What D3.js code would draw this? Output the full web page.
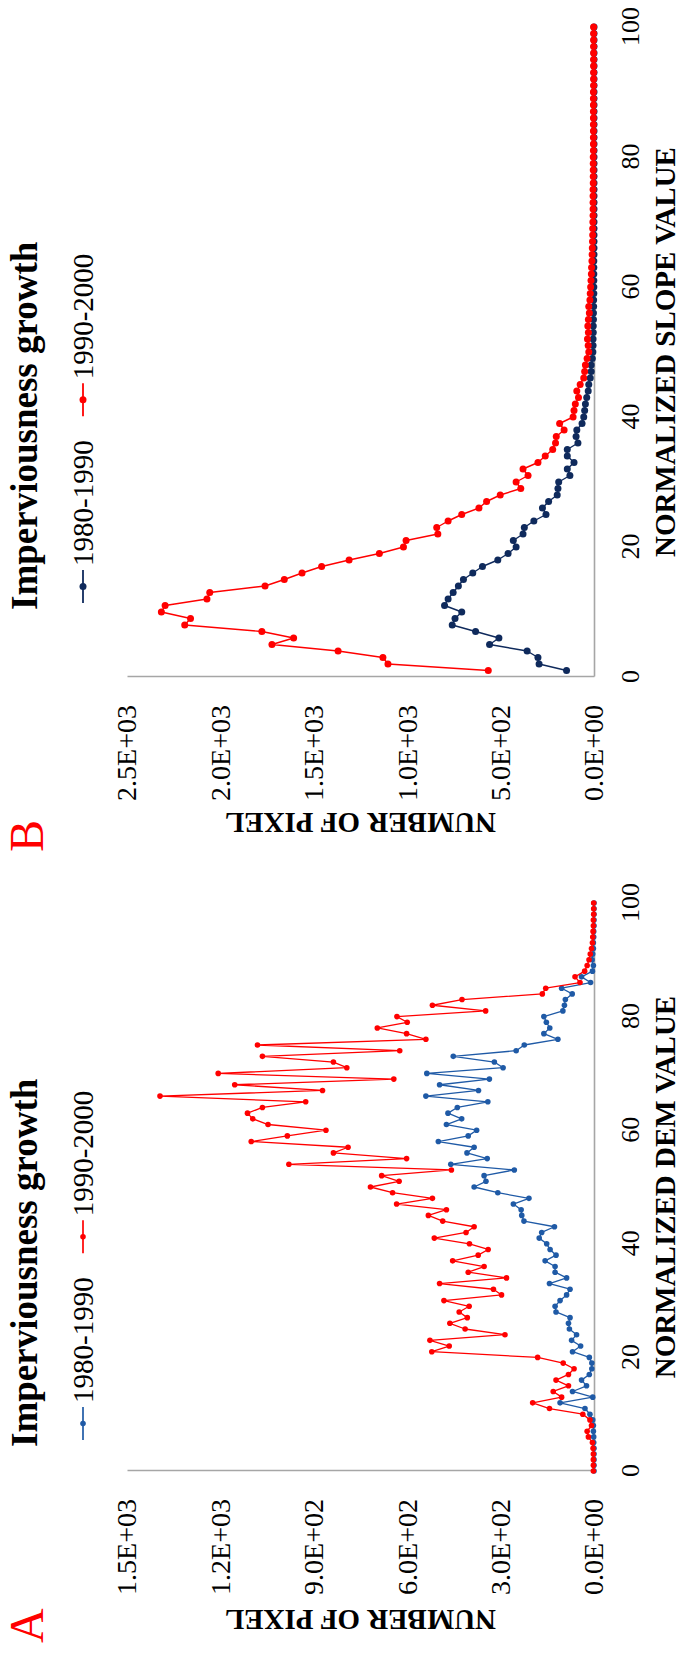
<!DOCTYPE html>
<html>
<head>
<meta charset="utf-8">
<script src="https://cdn.jsdelivr.net/npm/d3@7"></script>
<style>
  html, body { margin: 0; padding: 0; background: #fff; }
  svg { display: block; }
</style>
</head>
<body>
<svg id="fig" width="681" height="1654"></svg>
<script>
// ---- Panel A: pixel counts per normalized DEM value (0..100) ----
const demStart = 0;
const demTicks = [0, 20, 40, 60, 80, 100];
const demPixelTicks = [0, 300, 600, 900, 1200, 1500];
const dem1980_1990 = [
  0, 0, 0, 0, 0, 1, 1, 2, 2, 4,
  13, 29, 109, 4, 69, 24, 40, 15, 7, 7,
  15, 69, 43, 72, 56, 79, 82, 77, 122, 125,
  109, 88, 77, 143, 88, 125, 125, 157, 122, 141,
  152, 176, 168, 127, 225, 232, 234, 259, 209, 309,
  385, 347, 353, 256, 460, 343, 408, 385, 500, 404,
  377, 474, 425, 469, 439, 341, 540, 371, 496, 336,
  537, 292, 320, 452, 250, 224, 116, 161, 142, 153,
  161, 100, 95, 92, 70, 104, 11, 40, 5, 2,
  6, 4, 2, 2, 1, 1, 0, 0, 0, 0,
  0
];
const dem1990_2000 = [
  2, 2, 2, 2, 3, 5, 18, 22, 8, 13,
  36, 143, 197, 104, 131, 82, 122, 82, 64, 99,
  181, 521, 465, 527, 286, 414, 463, 407, 433, 401,
  482, 297, 323, 496, 281, 404, 353, 454, 372, 340,
  400, 513, 411, 385, 486, 532, 474, 634, 519, 647,
  718, 626, 682, 458, 980, 602, 837, 790, 1101, 985,
  861, 1047, 1096, 1113, 1065, 926, 1394, 872, 1154, 643,
  1207, 794, 837, 1065, 624, 1081, 540, 602, 696, 600,
  633, 348, 519, 424, 166, 155, 45, 61, 30, 22,
  16, 12, 8, 5, 4, 3, 2, 2, 1, 1,
  1
];

// ---- Panel B: pixel counts per normalized slope value (1..100) ----
const slopeStart = 1;
const slopeTicks = [0, 20, 40, 60, 80, 100];
const slopePixelTicks = [0, 500, 1000, 1500, 2000, 2500];
const slope1980_1990 = [
  147, 294, 300, 358, 559, 509, 634, 759, 744, 708,
  800, 781, 754, 726, 699, 649, 597, 515, 460, 417,
  432, 380, 373, 322, 257, 276, 243, 197, 193, 189,
  129, 143, 107, 143, 143, 86, 96, 92, 64, 55,
  50, 46, 39, 31, 28, 20, 15, 15, 9, 6,
  5, 5, 4, 4, 3, 3, 2, 2, 1, 1,
  1, 1, 1, 1, 0, 0, 0, 0, 0, 0,
  0, 0, 0, 0, 0, 0, 0, 0, 0, 0,
  0, 0, 0, 0, 0, 0, 0, 0, 0, 0,
  0, 0, 0, 0, 0, 0, 0, 0, 0, 0
];
const slope1990_2000 = [
  566, 1103, 1130, 1370, 1724, 1608, 1778, 2191, 2160, 2316,
  2296, 2072, 2057, 1761, 1658, 1563, 1458, 1311, 1149, 1020,
  1006, 836, 842, 781, 708, 616, 575, 502, 392, 417,
  353, 380, 300, 261, 221, 206, 202, 160, 184, 112,
  107, 100, 83, 92, 74, 55, 50, 46, 37, 28,
  31, 35, 30, 33, 30, 25, 28, 22, 20, 18,
  16, 14, 13, 11, 10, 9, 8, 7, 7, 6,
  5, 5, 5, 5, 5, 4, 4, 4, 4, 4,
  3, 3, 3, 3, 3, 3, 3, 3, 3, 3,
  2, 2, 2, 2, 2, 2, 2, 2, 2, 2
];

const seriesNames = ["1980-1990", "1990-2000"];
const chartTitle = "Imperviousness growth";
const yTitle = "NUMBER OF PIXEL";

const SERIF = "'Liberation Serif', 'Times New Roman', Times, serif";
const AXIS_GREY = "#a6a6a6";

// Scientific labels such as 1.5E+03
function sci(v) {
  const [m, e] = v.toExponential(1).split("e");
  return m + "E" + e[0] + e.slice(1).padStart(2, "0");
}

const svg = d3.select("#fig");
svg.append("rect").attr("width", 681).attr("height", 1654).attr("fill", "#fff");

// The figure is laid out landscape (1654 x 681) and turned a quarter turn.
const root = svg.append("g").attr("transform", "translate(0,1654) rotate(-90)");

function drawPanel(p) {
  const g = root.append("g");
  const x = d3.scaleLinear().domain([0, 100]).range([p.x0, p.x1]);
  const y = d3.scaleLinear().domain([0, p.yMax]).range([594, 127]);

  // horizontal axis (normalized value)
  const gx = g.append("g")
    .attr("transform", "translate(0,594)")
    .call(d3.axisBottom(x).tickValues(p.xTicks).tickSize(0).tickSizeOuter(0)
      .tickPadding(27).tickFormat(d3.format("d")));
  gx.attr("font-family", SERIF).attr("font-size", 26);

  // vertical axis (pixel counts)
  const gy = g.append("g")
    .attr("transform", `translate(${p.x0},0)`)
    .call(d3.axisLeft(y).tickValues(p.yTicks).tickSize(0).tickSizeOuter(0)
      .tickPadding(28).tickFormat(sci));
  gy.attr("font-family", SERIF).attr("font-size", 28);

  [gx, gy].forEach(a => {
    a.select(".domain").attr("stroke", AXIS_GREY).attr("stroke-width", 1.6);
    a.selectAll("text").attr("fill", "#000");
  });

  // series: line + dot markers
  p.series.forEach(s => {
    const pts = s.values.map((v, i) => [s.start + i, v]);
    g.append("path")
      .datum(pts)
      .attr("fill", "none")
      .attr("stroke", s.color)
      .attr("stroke-width", s.lw)
      .attr("stroke-linejoin", "round")
      .attr("d", d3.line().x(d => x(d[0])).y(d => y(d[1])));
    g.append("g").selectAll("circle")
      .data(pts)
      .join("circle")
      .attr("cx", d => x(d[0]))
      .attr("cy", d => y(d[1]))
      .attr("r", s.r)
      .attr("fill", s.color);
  });

  // axis titles
  g.append("text")
    .attr("x", (p.x0 + p.x1) / 2).attr("y", 675)
    .attr("text-anchor", "middle")
    .attr("font-family", SERIF).attr("font-weight", "bold").attr("font-size", 29)
    .text(p.xTitle);
  g.append("text")
    .attr("transform", `translate(${p.yTitleX},${(127 + 594) / 2}) rotate(-90)`)
    .attr("text-anchor", "middle")
    .attr("font-family", SERIF).attr("font-weight", "bold").attr("font-size", 29)
    .text(yTitle);

  // panel letter
  g.append("text")
    .attr("x", p.letterX).attr("y", 43)
    .attr("font-family", SERIF).attr("font-size", 48).attr("fill", "#ff0000")
    .text(p.letter);

  // title + legend
  g.append("text")
    .attr("x", p.titleX).attr("y", 37)
    .attr("font-family", SERIF).attr("font-weight", "bold").attr("font-size", 37)
    .text(chartTitle);

  let lx = p.titleX + 7;
  p.series.forEach((s, i) => {
    const ly = 83;
    g.append("line")
      .attr("x1", lx).attr("x2", lx + 33).attr("y1", ly).attr("y2", ly)
      .attr("stroke", s.color).attr("stroke-width", s.lw + 0.4);
    g.append("circle").attr("cx", lx + 16.5).attr("cy", ly).attr("r", s.r).attr("fill", s.color);
    const t = g.append("text")
      .attr("x", lx + 37).attr("y", 93)
      .attr("font-family", SERIF).attr("font-size", 29)
      .text(seriesNames[i]);
    lx = lx + 37 + t.node().getComputedTextLength() + 24;
  });
}

// Panel A: normalized DEM value
drawPanel({
  x0: 183, x1: 751, yMax: 1500,
  xTicks: demTicks, yTicks: demPixelTicks,
  xTitle: "NORMALIZED DEM VALUE",
  yTitleX: 44, letter: "A", letterX: 11, titleX: 207,
  series: [
    { values: dem1980_1990, start: demStart, color: "#1f5aa6", r: 2.8, lw: 1.3 },
    { values: dem1990_2000, start: demStart, color: "#ff0000", r: 2.8, lw: 1.3 }
  ]
});

// Panel B: normalized slope value
drawPanel({
  x0: 977, x1: 1627, yMax: 2500,
  xTicks: slopeTicks, yTicks: slopePixelTicks,
  xTitle: "NORMALIZED SLOPE VALUE",
  yTitleX: 841, letter: "B", letterX: 802, titleX: 1044,
  series: [
    { values: slope1980_1990, start: slopeStart, color: "#0f2a5c", r: 3.5, lw: 1.4 },
    { values: slope1990_2000, start: slopeStart, color: "#ff0000", r: 3.5, lw: 1.4 }
  ]
});
</script>
</body>
</html>
